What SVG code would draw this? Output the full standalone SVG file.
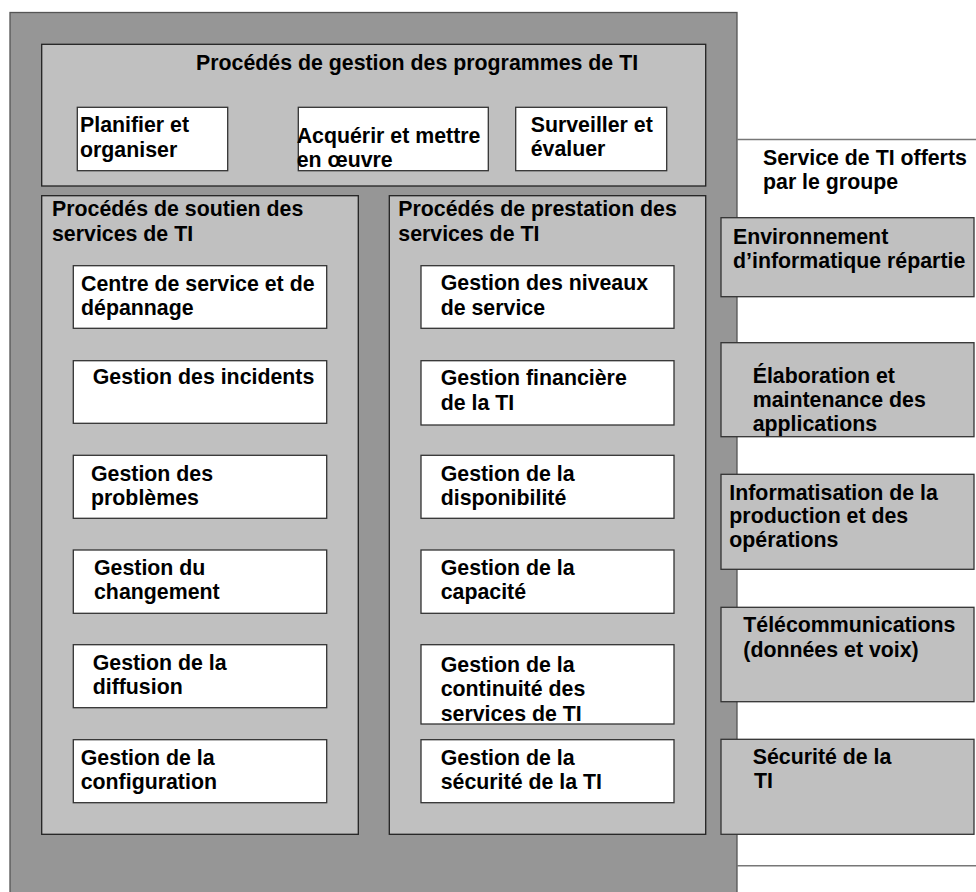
<svg xmlns="http://www.w3.org/2000/svg" width="976" height="892" viewBox="0 0 976 892">
<style>
text{font-family:"Liberation Sans",Arial,Helvetica,sans-serif;font-weight:bold;font-size:21.33px;fill:#000}
.outer{fill:#969696;stroke:#555;stroke-width:1.3}
.panel{fill:#c0c0c0;stroke:#222;stroke-width:1.3}
.box{fill:#fff;stroke:#333;stroke-width:1.3}
.svc{fill:#c0c0c0;stroke:#333;stroke-width:1.3}
.rule{stroke:#777;stroke-width:1.5;fill:none}
</style>
<rect width="976" height="892" fill="#fff"/>
<g id="outer"><rect class="outer" x="10" y="12.5" width="727" height="900"/></g>
<g id="programmes">
<rect class="panel" x="41.7" y="44.3" width="664" height="141.7"/>
<text x="196" y="70">Procédés de gestion des programmes de TI</text>
</g>
<g id="planifier"><rect class="box" x="77.3" y="107.3" width="150.4" height="63.4"/>
<text x="80" y="131.7">Planifier et</text><text x="80" y="156.7">organiser</text></g>
<g id="acquerir"><rect class="box" x="298.3" y="107.3" width="190" height="63.4"/>
<text x="296.7" y="143.3">Acquérir et mettre</text><text x="296.7" y="166.5">en œuvre</text></g>
<g id="surveiller"><rect class="box" x="515.7" y="107.3" width="151" height="63.4"/>
<text x="530.7" y="131.7">Surveiller et</text><text x="530.7" y="156.2">évaluer</text></g>

<g id="soutien">
<rect class="panel" x="41.7" y="195.7" width="316.6" height="638.6"/>
<text x="52" y="216">Procédés de soutien des</text><text x="52" y="241">services de TI</text>
</g>
<g id="centre"><rect class="box" x="73.3" y="265.7" width="253.4" height="62.6"/>
<text x="81" y="291">Centre de service et de</text><text x="81" y="315">dépannage</text></g>
<g id="incidents"><rect class="box" x="73.3" y="360.7" width="253.4" height="62.6"/>
<text x="92.7" y="384.3">Gestion des incidents</text></g>
<g id="problemes"><rect class="box" x="73.3" y="455.3" width="253.4" height="63"/>
<text x="91" y="480.7">Gestion des</text><text x="91" y="505">problèmes</text></g>
<g id="changement"><rect class="box" x="73.3" y="550" width="253.4" height="63.3"/>
<text x="94" y="575">Gestion du</text><text x="94" y="599.3">changement</text></g>
<g id="diffusion"><rect class="box" x="73.3" y="644.7" width="253.4" height="63"/>
<text x="92.7" y="670">Gestion de la</text><text x="92.7" y="694.3">diffusion</text></g>
<g id="configuration"><rect class="box" x="73.3" y="739.7" width="253.4" height="63"/>
<text x="80.7" y="765">Gestion de la</text><text x="80.7" y="789.3">configuration</text></g>

<g id="prestation">
<rect class="panel" x="389.3" y="195.7" width="316.4" height="638.6"/>
<text x="398.3" y="216">Procédés de prestation des</text><text x="398.3" y="241">services de TI</text>
</g>
<g id="niveaux"><rect class="box" x="421" y="265.7" width="253" height="62.6"/>
<text x="440.7" y="290">Gestion des niveaux</text><text x="440.7" y="315">de service</text></g>
<g id="financiere"><rect class="box" x="421" y="360.7" width="253" height="64.3"/>
<text x="440.7" y="385">Gestion financière</text><text x="440.7" y="410">de la TI</text></g>
<g id="disponibilite"><rect class="box" x="421" y="455.3" width="253" height="63"/>
<text x="440.7" y="480.7">Gestion de la</text><text x="440.7" y="505">disponibilité</text></g>
<g id="capacite"><rect class="box" x="421" y="550" width="253" height="63.3"/>
<text x="440.7" y="575">Gestion de la</text><text x="440.7" y="599.3">capacité</text></g>
<g id="continuite"><rect class="box" x="421" y="644.7" width="253" height="79.3"/>
<text x="440.7" y="671.7">Gestion de la</text><text x="440.7" y="696">continuité des</text><text x="440.7" y="720.7">services de TI</text></g>
<g id="securite-ti"><rect class="box" x="421" y="739.7" width="253" height="63"/>
<text x="440.7" y="765">Gestion de la</text><text x="440.7" y="789.3">sécurité de la TI</text></g>

<g id="connectors">
<line class="rule" x1="737" y1="139.5" x2="976" y2="139.5"/>
<line class="rule" x1="737" y1="865.7" x2="976" y2="865.7"/>
</g>

<g id="service-titre"><text x="763" y="165">Service de TI offerts</text><text x="763" y="189">par le groupe</text></g>
<g id="environnement"><rect class="svc" x="721" y="217.7" width="253" height="79"/>
<text x="733" y="244.3">Environnement</text><text x="733" y="267.7">d’informatique répartie</text></g>
<g id="elaboration"><rect class="svc" x="721" y="342.7" width="253" height="94"/>
<text x="752.7" y="383.3">Élaboration et</text><text x="752.7" y="406.7">maintenance des</text><text x="752.7" y="430.7">applications</text></g>
<g id="informatisation"><rect class="svc" x="721" y="474.3" width="253" height="95"/>
<text x="729.3" y="500">Informatisation de la</text><text x="729.3" y="523.3">production et des</text><text x="729.3" y="547.3">opérations</text></g>
<g id="telecom"><rect class="svc" x="721" y="607.3" width="253" height="94.4"/>
<text x="743.3" y="632.3">Télécommunications</text><text x="743.3" y="656.7">(données et voix)</text></g>
<g id="securite"><rect class="svc" x="721" y="739.3" width="253" height="95"/>
<text x="752.7" y="764.3">Sécurité de la</text><text x="754" y="788.3">TI</text></g>
</svg>
